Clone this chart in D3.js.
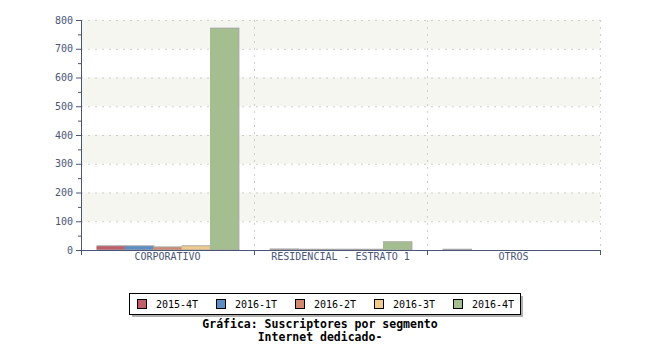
<!DOCTYPE html>
<html><head><meta charset="utf-8">
<script src="https://cdn.jsdelivr.net/npm/d3@7"></script>
<style>body{margin:0;background:#fff}svg{display:block}</style>
</head><body>
<svg id="c" width="650" height="350"></svg>
<script>
const categories = ["CORPORATIVO", "RESIDENCIAL - ESTRATO 1", "OTROS"];
const seriesNames = ["2015-4T", "2016-1T", "2016-2T", "2016-3T", "2016-4T"];
const s2015_4T = [13, 2, 1];
const s2016_1T = [13, 1, 0];
const s2016_2T = [9, 1, 0];
const s2016_3T = [13, 1, 0];
const s2016_4T = [770, 27, 0];
const seriesValues = [s2015_4T, s2016_1T, s2016_2T, s2016_3T, s2016_4T];
const yTicks = [0, 100, 200, 300, 400, 500, 600, 700, 800];
const colors = ["#bf5f69", "#5b8ec4", "#d0886f", "#eeca8c", "#a4be90"];
const titleLines = ["Gráfica: Suscriptores por segmento", "Internet dedicado-"];

const svg = d3.select("#c");
const L = 81, R = 600, T = 20, B = 250;
const axisColor = "#4a5578";
const font = "'DejaVu Sans Mono', monospace";

const x = d3.scaleBand().domain(categories).range([L, R]).paddingInner(0).paddingOuter(0);
const xs = d3.scaleBand().domain(seriesNames).range([0, x.bandwidth()]).paddingOuter(0.55).paddingInner(0);
const y = d3.scaleLinear().domain([0, 800]).range([B, T]);

// alternating bands
for (let i = 1; i < yTicks.length; i += 2) {
  svg.append("rect").attr("x", L).attr("y", y(yTicks[i+1] ?? 800)).attr("width", R - L)
    .attr("height", y(yTicks[i]) - y(yTicks[i+1] ?? 800)).attr("fill", "#f6f6f1");
}
// grid
const g = svg.append("g");
yTicks.slice(1).forEach(v => {
  g.append("line").attr("x1", L).attr("x2", R).attr("y1", y(v)+0.5).attr("y2", y(v)+0.5)
    .attr("stroke", "#cfcfcf").attr("stroke-dasharray", "2,5");
});
categories.forEach((c, i) => {
  const xx = x(c) + x.bandwidth();
  g.append("line").attr("x1", Math.round(xx)+0.5).attr("x2", Math.round(xx)+0.5).attr("y1", T).attr("y2", B)
    .attr("stroke", "#cfcfcf").attr("stroke-dasharray", "2,5");
});

// bars
categories.forEach((c, ci) => {
  seriesNames.forEach((s, si) => {
    const v = seriesValues[si][ci];
    if (v <= 0) return;
    const bx = x(c) + xs(s), bw = xs.bandwidth();
    const by = y(v), bh = B - y(v);
    svg.append("rect").attr("x", bx).attr("y", by - 1).attr("width", bw + 1).attr("height", bh + 1).attr("fill", "#a8a8a8");
    svg.append("rect").attr("x", bx).attr("y", by).attr("width", bw).attr("height", Math.max(0, bh - 0.5)).attr("fill", colors[si]);
  });
});

// y axis
const yAxis = d3.axisLeft(y).tickValues(yTicks).tickSize(5).tickPadding(3).tickFormat(d3.format("d"));
const ya = svg.append("g").attr("transform", `translate(${L},0)`).call(yAxis);
ya.select(".domain").attr("stroke", axisColor).attr("d", `M0.5,${T}V${B}`);
ya.selectAll(".tick line").attr("stroke", axisColor);
ya.selectAll(".tick text").attr("fill", axisColor).style("font-family", font).style("font-size", "10px");
// minor ticks
d3.range(50, 800, 100).forEach(v => {
  svg.append("line").attr("x1", L - 3).attr("x2", L).attr("y1", y(v)+0.5).attr("y2", y(v)+0.5).attr("stroke", axisColor);
});

// x axis
svg.append("line").attr("x1", L).attr("x2", R + 1).attr("y1", B + 0.5).attr("y2", B + 0.5).attr("stroke", axisColor);
[L, ...categories.map(c => x(c) + x.bandwidth())].forEach(xx => {
  svg.append("line").attr("x1", Math.round(xx)+0.5).attr("x2", Math.round(xx)+0.5).attr("y1", B).attr("y2", B + 5).attr("stroke", axisColor);
});
categories.forEach(c => {
  svg.append("text").attr("x", x(c) + x.bandwidth() / 2).attr("y", B + 10).attr("text-anchor", "middle")
    .attr("fill", axisColor).style("font-family", font).style("font-size", "10px").text(c);
});

// legend
const lx = 129, ly = 293, lw = 391, lh = 21;
svg.append("rect").attr("x", lx + 3).attr("y", ly + 3).attr("width", lw).attr("height", lh).attr("fill", "#b0b0b0");
svg.append("rect").attr("x", lx + 0.5).attr("y", ly + 0.5).attr("width", lw).attr("height", lh).attr("fill", "#fff").attr("stroke", "#000");
seriesNames.forEach((s, i) => {
  const ix = 137 + i * 79;
  svg.append("rect").attr("x", ix + 0.5).attr("y", ly + 6.5).attr("width", 9).attr("height", 9).attr("fill", colors[i]).attr("stroke", "#000");
  svg.append("text").attr("x", ix + 19).attr("y", ly + 15).attr("fill", "#000")
    .style("font-family", font).style("font-size", "10px").text(s);
});

// title
titleLines.forEach((t, i) => {
  svg.append("text").attr("x", 320).attr("y", 328 + i * 12.5).attr("text-anchor", "middle")
    .style("font-family", font).style("font-size", "11.5px").style("font-weight", "bold").attr("fill", "#000").text(t);
});
</script>
</body></html>
